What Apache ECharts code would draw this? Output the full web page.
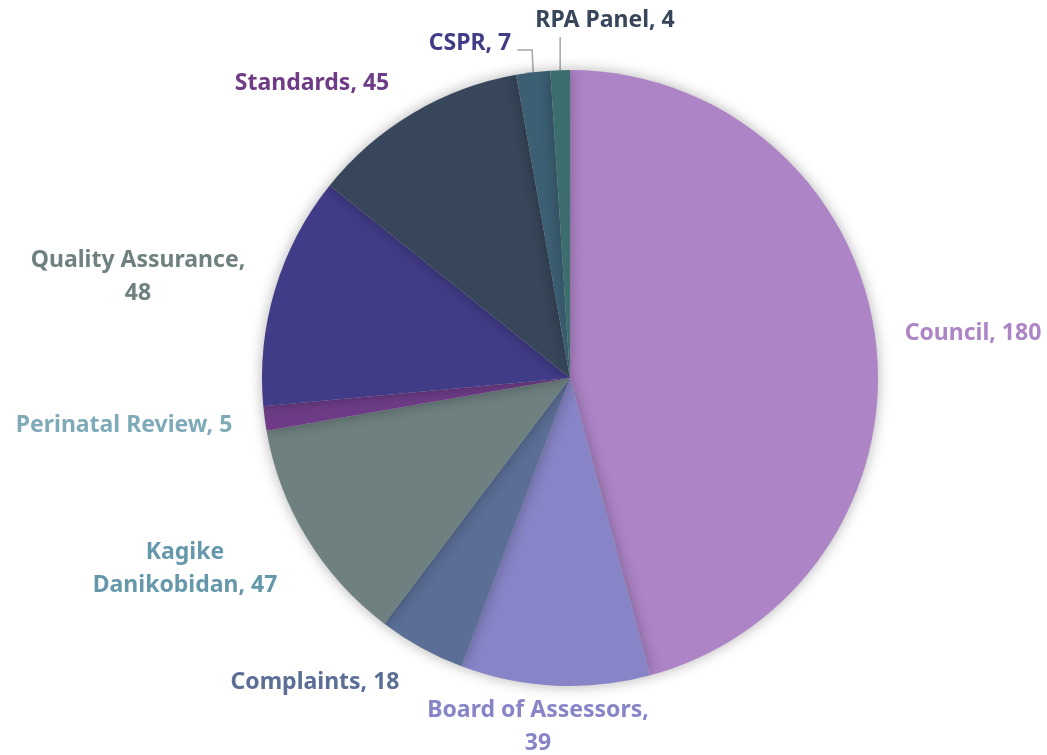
<!DOCTYPE html>
<html lang="en" style="height: 100%">
<head>
    <meta charset="UTF-8">
    <script src="https://cdn.jsdelivr.net/npm/echarts@6/dist/echarts.min.js"></script>
</head>
<body style="height: 100%; margin: 0; background: #fff">
<div id="container" style="height: 100%; width: 100%"></div>
<script>
    // data, clockwise from 12 o'clock
    var names = ['Council', 'Board of Assessors', 'Complaints', 'Kagike Danikobidan', 'Perinatal Review',
        'Quality Assurance', 'Standards', 'CSPR', 'RPA Panel'];
    var values = [180, 39, 18, 47, 5, 48, 45, 7, 4];
    var sliceColors = ['#ad84c6', '#8784c7', '#5a6e96', '#6e8080', '#6e3c87',
        '#413c87', '#37465a', '#3c5f73', '#3c6e6e'];
    var labelColors = ['#ad84c6', '#8784c7', '#5a6e96', '#6598ab', '#7faab8',
        '#6e8080', '#6e3c87', '#413c87', '#37465a'];

    // where the label text goes (centre of text block)
    var labelPos = {
        'Council': [973, 333],
        'Board of Assessors': [538, 727],
        'Complaints': [315, 682],
        'Kagike Danikobidan': [185, 569],
        'Perinatal Review': [124, 425],
        'Quality Assurance': [138, 277],
        'Standards': [312, 83],
        'CSPR': [470, 43],
        'RPA Panel': [605, 20]
    };
    var wrapAt = {
        'Board of Assessors': 'Board of Assessors,\n',
        'Kagike Danikobidan': 'Kagike\nDanikobidan, ',
        'Quality Assurance': 'Quality Assurance,\n'
    };

    var dom = document.getElementById('container');
    var myChart = echarts.init(dom);

    var pieData = names.map(function (n, i) {
        var withLine = (n === 'CSPR' || n === 'RPA Panel');
        return {
            name: n,
            value: values[i],
            itemStyle: {color: sliceColors[i]},
            label: {color: labelColors[i]},
            labelLine: {show: withLine}
        };
    });

    var option = {
        backgroundColor: '#fff',
        animation: false,
        series: [
            {
                type: 'pie',
                center: [570, 378],
                radius: 308,
                startAngle: 90,
                clockwise: true,
                data: pieData,
                itemStyle: {
                    borderWidth: 0,
                    shadowBlur: 14,
                    shadowColor: 'rgba(0, 0, 0, 0.3)'
                },
                label: {
                    show: true,
                    position: 'outside',
                    fontFamily: 'Noto Sans',
                    fontWeight: 'bold',
                    fontSize: 23,
                    lineHeight: 33,
                    align: 'center',
                    formatter: function (p) {
                        if (wrapAt[p.name]) {
                            return wrapAt[p.name] + p.value;
                        }
                        return p.name + ', ' + p.value;
                    }
                },
                labelLine: {
                    length: 10,
                    length2: 8,
                    lineStyle: {color: '#a6a6a6', width: 1.5}
                },
                labelLayout: function (params) {
                    var name = names[params.dataIndex];
                    var pos = labelPos[name];
                    var out = {
                        x: pos[0],
                        y: pos[1],
                        align: 'center',
                        verticalAlign: 'middle'
                    };
                    // elbow leader lines from the slice edge
                    var p0 = params.labelLinePoints && params.labelLinePoints[0];
                    if (p0 && name === 'CSPR') {
                        var right = pos[0] + params.labelRect.width / 2 + 6;
                        out.labelLinePoints = [p0, [p0[0] - 1, pos[1] + 7], [right, pos[1] + 7]];
                    } else if (p0 && name === 'RPA Panel') {
                        out.labelLinePoints = [p0, [p0[0], pos[1] + 17], [p0[0], pos[1] + 17]];
                    }
                    return out;
                }
            }
        ]
    };

    myChart.setOption(option);
</script>
</body>
</html>
